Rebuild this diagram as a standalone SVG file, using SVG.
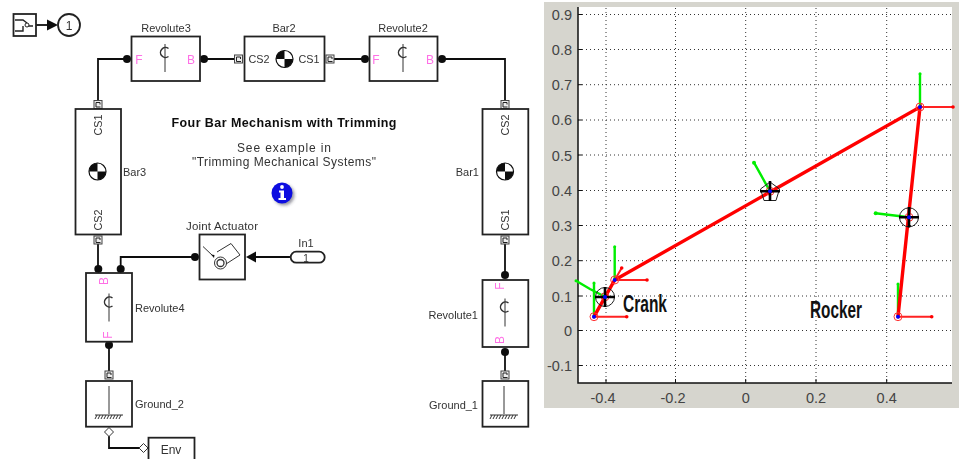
<svg xmlns="http://www.w3.org/2000/svg" width="959" height="459" viewBox="0 0 959 459">
<style>
text{font-family:"Liberation Sans",Arial,sans-serif;font-size:11px;fill:#333}
.b{fill:#fff;stroke:#222;stroke-width:1.8}
.w{fill:none;stroke:#111;stroke-width:1.8}
.t{fill:none;stroke:#333;stroke-width:1}
.arc{fill:none;stroke:#333;stroke-width:1.5}
.d{fill:#111}
.p{font-size:12px;fill:#ff70e6;text-anchor:middle}
.m{text-anchor:middle}
.cs{font-size:10.8px}
.port{fill:#eee;stroke:#444;stroke-width:1}
.tick{font-size:14.5px;fill:#444;text-anchor:middle}
.ytick{font-size:14.5px;fill:#444;text-anchor:end}
.grid{stroke:#333;stroke-width:1;stroke-dasharray:1 3;fill:none}
.red{stroke:#f00;stroke-width:3.4;fill:none;stroke-linecap:round}
.thin{stroke:#f22;stroke-width:2;fill:none}
.grn{stroke:#0e0;stroke-width:2.4;fill:none}
.ring{fill:none;stroke:#f33;stroke-width:1}
.cross{stroke:#000;stroke-width:2.6}
.cg{fill:none;stroke:#222;stroke-width:1}
.big{font-size:24px;fill:#111;font-weight:bold}
</style>
<defs>
<g id="cm"><circle r="8.5" fill="#fff" stroke="#111" stroke-width="1.2"/><path d="M0 0V-8.500A8.500 8.500 0 0 0 -8.500 0ZM0 0V8.500A8.500 8.500 0 0 0 8.500 0Z" fill="#111"/></g>
<g id="rev"><path d="M3.500 -9.500A5 5 0 1 0 3.500 -1.500" class="arc"/><path d="M0 -14V14" class="t"/></g>
<g id="prt"><rect x="-4" y="-4" width="8" height="8" class="port"/><path d="M-2 2.500L-2 -2L2 -2L2 0M-2 2.500L2.500 2.500" fill="none" stroke="#222" stroke-width="1"/></g>
<g id="gnd"><path d="M0 -23V5" class="t"/><path d="M-14 6H14" class="t"/><path d="M-14 10L-12 6M-11 10L-9 6M-8 10L-6 6M-5 10L-3 6M-2 10L0 6M1 10L3 6M4 10L6 6M7 10L9 6M10 10L12 6" class="t" stroke-width=".8"/></g>
<filter id="sh" x="-30%" y="-30%" width="170%" height="170%"><feGaussianBlur stdDeviation="1.5"/></filter>
<filter id="soft" filterUnits="userSpaceOnUse" x="0" y="0" width="544" height="459"><feGaussianBlur stdDeviation="0.4"/></filter>
</defs>

<g id="model" filter="url(#soft)">
<g id="connectors">
<path class="w" d="M36 25H48"/><path class="d" d="M47 19.500L58 25L47 30.500Z"/>
<path class="w" d="M127 59H98V104"/>
<path class="w" d="M204 59H238"/>
<path class="w" d="M330 59H365"/>
<path class="w" d="M442 59H505V104"/>
<path class="w" d="M98 240V269"/>
<path class="w" d="M120.700 269V257H195"/>
<path class="w" d="M256 257H290"/><path class="d" d="M256 251.500L246 257L256 262.500Z"/>
<path class="w" d="M505 240V275"/>
<path class="w" d="M505 352V375"/>
<path class="w" d="M109 345V375"/>
<path class="w" d="M109 436V448H139"/>
<circle class="d" cx="127" cy="59" r="4"/><circle class="d" cx="204" cy="59" r="4"/>
<circle class="d" cx="365" cy="59" r="4"/><circle class="d" cx="442" cy="59" r="4"/>
<circle class="d" cx="98.300" cy="269" r="4"/><circle class="d" cx="120.700" cy="269" r="4"/>
<circle class="d" cx="195" cy="257" r="4"/><circle class="d" cx="505" cy="275" r="4"/>
<circle class="d" cx="505" cy="352" r="4"/><circle class="d" cx="109" cy="345" r="4"/>
<path d="M109 427.500L113.500 432L109 436.500L104.500 432Z" fill="#fff" stroke="#333"/>
<path d="M143.500 443.500L148 448L143.500 452.500L139 448Z" fill="#fff" stroke="#333"/>
<use href="#prt" x="238.500" y="59"/><use href="#prt" x="330" y="59"/>
<use href="#prt" x="98" y="104.500"/><use href="#prt" x="505" y="104.500"/>
<use href="#prt" x="98" y="240"/><use href="#prt" x="505" y="240"/>
<use href="#prt" x="109" y="375"/><use href="#prt" x="505" y="375"/>
</g>

<g id="switch"><rect class="b" x="13.500" y="14" width="22.500" height="22"/><path d="M15 20H23L27 23M15 31H23V26M27 26H33" fill="none" stroke="#222" stroke-width="1.400"/><circle cx="27" cy="25" r="2" fill="#fff" stroke="#222"/></g>
<g id="out1"><circle class="b" cx="69" cy="25" r="11"/><text class="m" x="69" y="29.500" style="font-size:12px">1</text></g>

<g id="revolute3"><rect class="b" x="131.500" y="36.500" width="68.500" height="44.500"/><text class="m" x="166" y="32">Revolute3</text><text class="p" x="139" y="63.500">F</text><text class="p" x="191" y="63.500">B</text><use href="#rev" x="165" y="58"/></g>
<g id="bar2"><rect class="b" x="244.500" y="36.500" width="80" height="44.500"/><text class="m" x="284" y="32">Bar2</text><text class="cs" x="248.500" y="63">CS2</text><text class="cs" x="298.500" y="63">CS1</text><use href="#cm" x="284.500" y="59"/></g>
<g id="revolute2"><rect class="b" x="369.500" y="36.500" width="68" height="44.500"/><text class="m" x="403" y="32">Revolute2</text><text class="p" x="376" y="63.500">F</text><text class="p" x="430" y="63.500">B</text><use href="#rev" x="403" y="58"/></g>
<g id="bar3"><rect class="b" x="75.500" y="109" width="45.500" height="125.500"/><text x="123" y="176">Bar3</text><use href="#cm" x="97.500" y="171.500"/><text class="m cs" transform="translate(102 125) rotate(-90)">CS1</text><text class="m cs" transform="translate(102 220) rotate(-90)">CS2</text></g>
<g id="bar1"><rect class="b" x="482.500" y="109" width="45.800" height="125.500"/><text x="479" y="176" text-anchor="end">Bar1</text><use href="#cm" x="505" y="171.500"/><text class="m cs" transform="translate(509 125) rotate(-90)">CS2</text><text class="m cs" transform="translate(509 220) rotate(-90)">CS1</text></g>
<g id="title"><text class="m" x="284" y="126.500" style="font-size:12.500px;font-weight:bold;fill:#111" textLength="225" lengthAdjust="spacing">Four Bar Mechanism with Trimming</text><text class="m" x="284" y="152" style="font-size:12px" textLength="94" lengthAdjust="spacing">See example in</text><text class="m" x="284" y="166" style="font-size:12px" textLength="184" lengthAdjust="spacing">"Trimming Mechanical Systems"</text></g>
<g id="info"><circle cx="284" cy="195" r="10.500" fill="#556" opacity=".6" filter="url(#sh)"/><circle cx="282" cy="193" r="10.500" fill="#0a10e0"/><circle cx="282" cy="187" r="1.900" fill="#fff"/><path d="M279 190.500H284V198H286V200H278.500V198H280.500V192.500H279Z" fill="#fff"/></g>
<g id="actuator"><rect class="b" x="199.500" y="234.500" width="45.500" height="45"/><text class="m" x="222" y="230" textLength="72" lengthAdjust="spacing" style="font-size:11.500px">Joint Actuator</text><path d="M203 246.500L213 256" class="t"/><path class="d" d="M211 254.500L214.500 255L214 258Z"/><path d="M217 252L231 243.500L240 255L226 264" class="t"/><circle cx="220.500" cy="263" r="6" class="t"/><circle cx="220.500" cy="263" r="3.500" fill="none" stroke="#333" stroke-width="1.300"/></g>
<g id="in1"><rect class="b" x="290.700" y="251.700" width="34" height="11" rx="5.500"/><text class="m" x="306" y="246.500">In1</text><text class="m" x="306" y="261.500" style="font-size:10px">1</text></g>
<g id="revolute4"><rect class="b" x="86" y="273" width="46" height="68.700"/><text x="135" y="312">Revolute4</text><text class="p" transform="translate(103.500 281) rotate(-90) translate(0 4)">B</text><text class="p" transform="translate(108 335) rotate(-90) translate(0 4)">F</text><use href="#rev" x="109" y="307.500"/></g>
<g id="revolute1"><rect class="b" x="482.500" y="280" width="45.800" height="67"/><text x="478" y="319" text-anchor="end">Revolute1</text><text class="p" transform="translate(500 286) rotate(-90) translate(0 4)">F</text><text class="p" transform="translate(500 340) rotate(-90) translate(0 4)">B</text><use href="#rev" x="505" y="312.500"/></g>
<g id="ground_2"><rect class="b" x="86" y="381" width="46" height="45.700"/><text x="135" y="408">Ground_2</text><use href="#gnd" x="109" y="409"/></g>
<g id="ground_1"><rect class="b" x="482.500" y="381" width="45.800" height="45.700"/><text x="478" y="409" text-anchor="end">Ground_1</text><use href="#gnd" x="504" y="409"/></g>
<g id="env"><rect class="b" x="148.500" y="437.700" width="46" height="30"/><text class="m" x="171" y="453.500" style="font-size:12px">Env</text></g>
</g>

<g id="plot">
<rect x="544" y="2" width="415" height="406" fill="#d6d5ce"/>
<rect x="578" y="7" width="374" height="376" fill="#fff"/>
<path class="grid" d="M606 8V383M675.500 8V383M745.700 8V383M816 8V383M886.700 8V383"/>
<path class="grid" d="M578 14.500H952M578 49.500H952M578 84.700H952M578 120H952M578 155H952M578 190.500H952M578 225.500H952M578 260.700H952M578 296H952M578 330.500H952M578 365.500H952"/>
<path d="M578 7V383H952" fill="none" stroke="#111" stroke-width="1.500"/>
<path d="M578 14.500h4M578 49.500h4M578 84.700h4M578 120h4M578 155h4M578 190.500h4M578 225.500h4M578 260.700h4M578 296h4M578 330.500h4M578 365.500h4M606 383v-4M675.500 383v-4M745.700 383v-4M816 383v-4M886.700 383v-4" stroke="#111" fill="none"/>
<text class="ytick" x="572" y="20">0.9</text><text class="ytick" x="572" y="55">0.8</text><text class="ytick" x="572" y="90">0.7</text><text class="ytick" x="572" y="125">0.6</text><text class="ytick" x="572" y="160.500">0.5</text><text class="ytick" x="572" y="196">0.4</text><text class="ytick" x="572" y="231">0.3</text><text class="ytick" x="572" y="266">0.2</text><text class="ytick" x="572" y="301.500">0.1</text><text class="ytick" x="572" y="336">0</text><text class="ytick" x="572" y="371">-0.1</text>
<text class="tick" x="603" y="403">-0.4</text><text class="tick" x="673" y="403">-0.2</text><text class="tick" x="745.700" y="403">0</text><text class="tick" x="816" y="403">0.2</text><text class="tick" x="886.700" y="403">0.4</text>

<path class="grn" d="M594 316.700V283M614.700 280V246.700M605 296.700L590 289L576 280.700M770 191.300L754 162.700M920 107V73.700M909 217.300L875.700 213.300M898 316.700V284"/>
<path class="thin" d="M594 316.700H626.700M614.700 280H647M614.700 280L621.700 268M920 107H953M898 316.700H931.700"/>
<path class="red" d="M594 316.700L614.700 280L920 107L898 316.700"/>
<g fill="#f00"><circle cx="626.700" cy="316.700" r="1.800"/><circle cx="647" cy="280" r="1.800"/><circle cx="621.700" cy="268" r="1.800"/><circle cx="953" cy="107" r="1.800"/><circle cx="931.700" cy="316.700" r="1.800"/></g>
<g fill="#0e0"><circle cx="594" cy="283" r="1.500"/><circle cx="614.700" cy="246.700" r="1.500"/><circle cx="576" cy="280.700" r="1.500"/><circle cx="754" cy="162.700" r="2"/><circle cx="920" cy="73.700" r="1.500"/><circle cx="875.700" cy="213.300" r="2"/><circle cx="898" cy="284" r="1.500"/></g>
<circle class="ring" cx="594" cy="316.700" r="4"/><circle class="ring" cx="614.700" cy="280" r="4"/><circle class="ring" cx="920" cy="107" r="4"/><circle class="ring" cx="898" cy="316.700" r="4"/><circle class="ring" cx="605" cy="296.700" r="4"/><circle class="ring" cx="770" cy="191.300" r="4"/><circle class="ring" cx="909" cy="217.300" r="4"/>
<circle class="cg" cx="605" cy="297" r="9.500"/><path class="cross" d="M595 297H615M605 287V307"/>
<circle class="cg" cx="909" cy="217.300" r="9.500"/><path class="cross" d="M899 217.300H919M909 207V227.500"/>
<path class="cg" d="M770 182L779.500 189L776 200.500H764L760.500 189Z"/><path class="cross" d="M760 191.300H780M770 181V201"/>
<g fill="#00f"><circle cx="594" cy="316.700" r="2"/><circle cx="614.700" cy="280" r="2"/><circle cx="920" cy="107" r="2"/><circle cx="898" cy="316.700" r="2"/><circle cx="605" cy="297" r="2"/><circle cx="770" cy="191.300" r="2"/><circle cx="909" cy="217.300" r="2"/></g>
<text class="big" x="623" y="312" textLength="44" lengthAdjust="spacingAndGlyphs">Crank</text>
<text class="big" x="810" y="318" textLength="52" lengthAdjust="spacingAndGlyphs">Rocker</text>
</g>
</svg>
